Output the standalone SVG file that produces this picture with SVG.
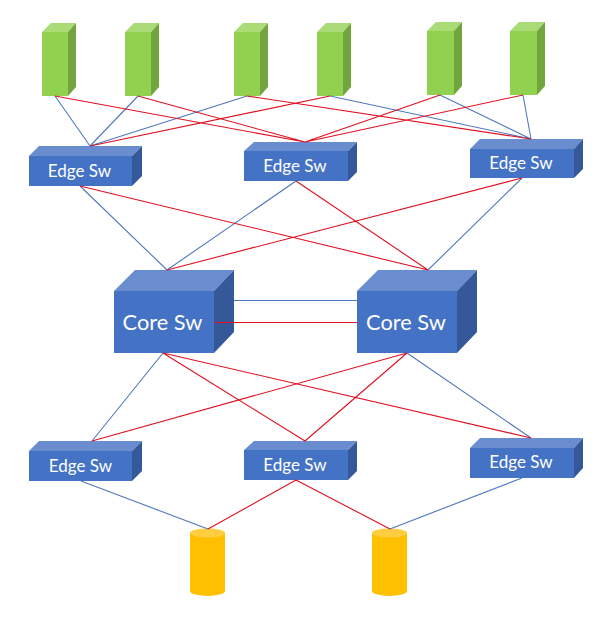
<svg xmlns="http://www.w3.org/2000/svg" width="600" height="620" viewBox="0 0 600 620">
<style>
.f{fill:#4472C4}.t{fill:#6A8DD0}.s{fill:#345899}
.gf{fill:#92D050}.gt{fill:#A9DB76}.gs{fill:#72A53E}
.of{fill:#FFC000}.ot{fill:#FFCE40}
.b{stroke:#4F78BE;stroke-width:1.100;fill:none}.r{stroke:#E01020;stroke-width:1.100;fill:none}
text{font-family:"Lato","Open Sans","Liberation Sans",sans-serif;fill:#fff;text-anchor:middle}
.e{font-size:17px}.c{font-size:21.800px}
</style>
<rect width="600" height="620" fill="#fff"/>
<g id="server-1"><polygon class="gf" points="42,32 68,32 68,96 42,96"/><polygon class="gt" points="42,32 51,23 76,23 68,32"/><polygon class="gs" points="68,32 76,23 76,87 68,96"/></g>
<g id="server-2"><polygon class="gf" points="125,32 151,32 151,96 125,96"/><polygon class="gt" points="125,32 134,23 159,23 151,32"/><polygon class="gs" points="151,32 159,23 159,87 151,96"/></g>
<g id="server-3"><polygon class="gf" points="234,32 260,32 260,96 234,96"/><polygon class="gt" points="234,32 243,23 268,23 260,32"/><polygon class="gs" points="260,32 268,23 268,87 260,96"/></g>
<g id="server-4"><polygon class="gf" points="317,32 343,32 343,96 317,96"/><polygon class="gt" points="317,32 326,23 351,23 343,32"/><polygon class="gs" points="343,32 351,23 351,87 343,96"/></g>
<g id="server-5"><polygon class="gf" points="427,31 454,31 454,95 427,95"/><polygon class="gt" points="427,31 436,22 462,22 454,31"/><polygon class="gs" points="454,31 462,22 462,86 454,95"/></g>
<g id="server-6"><polygon class="gf" points="510,31 537,31 537,95 510,95"/><polygon class="gt" points="510,31 519,22 545,22 537,31"/><polygon class="gs" points="537,31 545,22 545,86 537,95"/></g>
<g id="edge-top-1"><polygon class="f" points="29,156 132,156 132,186 29,186"/><polygon class="t" points="29,156 39,146 142,146 132,156"/><polygon class="s" points="132,156 142,146 142,176 132,186"/><text class="e" x="79.500" y="177">Edge Sw</text></g>
<g id="edge-top-2"><polygon class="f" points="244,151 348,151 348,181 244,181"/><polygon class="t" points="244,151 254,142 357,142 348,151"/><polygon class="s" points="348,151 357,142 357,172 348,181"/><text class="e" x="295" y="172">Edge Sw</text></g>
<g id="edge-top-3"><polygon class="f" points="470,149 574,149 574,178 470,178"/><polygon class="t" points="470,149 480,139 583,139 574,149"/><polygon class="s" points="574,149 583,139 583,169 574,178"/><text class="e" x="521" y="169">Edge Sw</text></g>
<g id="core-1"><polygon class="f" points="114,291 214,291 214,353 114,353"/><polygon class="t" points="114,291 135,270 234,270 214,291"/><polygon class="s" points="214,291 234,270 234,332 214,353"/><text class="c" x="162.500" y="330">Core Sw</text></g>
<g id="core-2"><polygon class="f" points="357,291 457,291 457,353 357,353"/><polygon class="t" points="357,291 378,270 477,270 457,291"/><polygon class="s" points="457,291 477,270 477,332 457,353"/><text class="c" x="406" y="330">Core Sw</text></g>
<g id="edge-bottom-1"><polygon class="f" points="29,451 132,451 132,481 29,481"/><polygon class="t" points="29,451 39,441 142,441 132,451"/><polygon class="s" points="132,451 142,441 142,471 132,481"/><text class="e" x="80.500" y="472">Edge Sw</text></g>
<g id="edge-bottom-2"><polygon class="f" points="244,450 348,450 348,480 244,480"/><polygon class="t" points="244,450 254,441 357,441 348,450"/><polygon class="s" points="348,450 357,441 357,471 348,480"/><text class="e" x="295" y="471">Edge Sw</text></g>
<g id="edge-bottom-3"><polygon class="f" points="470,448 574,448 574,478 470,478"/><polygon class="t" points="470,448 480,438 583,438 574,448"/><polygon class="s" points="574,448 583,438 583,468 574,478"/><text class="e" x="521" y="468">Edge Sw</text></g>
<g id="storage-1"><path class="of" d="M190,533V591A17.500,5 0 0 0 225,591V533Z"/><ellipse class="ot" cx="207.500" cy="533" rx="17.500" ry="4.500"/></g>
<g id="storage-2"><path class="of" d="M372,533V591A17.500,5 0 0 0 407,591V533Z"/><ellipse class="ot" cx="389.500" cy="533" rx="17.500" ry="4.500"/></g>
<g id="connectors">
<path class="b" d="M55,96L90,146M138,96L90,146M247,96L90,146M330,96L531,139M440,95L531,139M523,95L531,139"/>
<path class="r" d="M55,96L305,142M138,96L305,142M247,96L531,139M330,96L90,146M440,95L305,142M523,95L305,142"/>
<path class="b" d="M80,186L167,270M296,181L167,270M522,178L428,270"/>
<path class="r" d="M80,186L428,270M296,181L428,270M522,178L167,270"/>
<path class="b" d="M234,300.500H357M163,353L92,441M407,353L531,438"/>
<path class="r" d="M214,322.500H357M163,353L305,441M163,353L531,438M407,353L92,441M407,353L305,441"/>
<path class="b" d="M81,481L208,529M522,478L390,529"/>
<path class="r" d="M296,480L208,529M296,480L390,529"/>
</g>
</svg>
